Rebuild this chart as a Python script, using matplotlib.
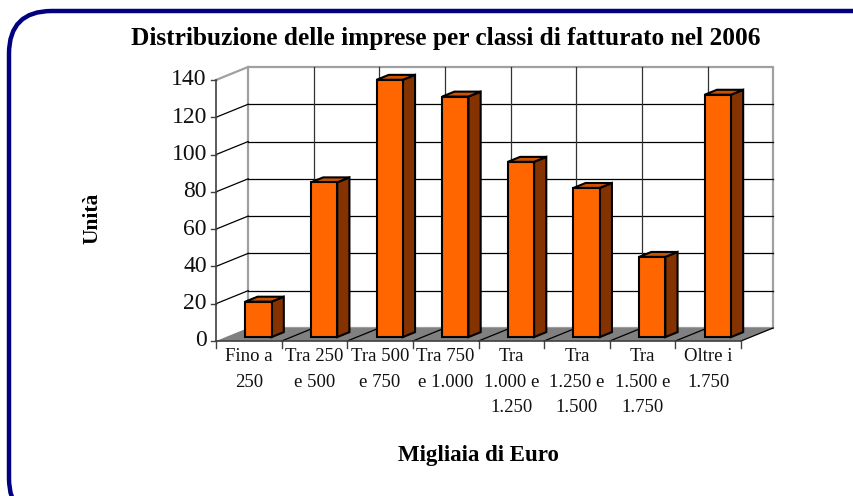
import matplotlib
matplotlib.use('Agg')
import matplotlib.pyplot as plt
from matplotlib.patches import Polygon, FancyBboxPatch

# data
categories = ['Fino a\n250', 'Tra 250\ne 500', 'Tra 500\ne 750', 'Tra 750\ne 1.000',
              'Tra\n1.000 e\n1.250', 'Tra\n1.250 e\n1.500', 'Tra\n1.500 e\n1.750', 'Oltre i\n1.750']
values = [19, 83, 138, 129, 94, 80, 43, 130]
yticks = [0, 20, 40, 60, 80, 100, 120, 140]

title = 'Distribuzione delle imprese per classi di fatturato nel 2006'
xlabel = 'Migliaia di Euro'
ylabel = 'Unità'

# pseudo 3d look (excel style)
DX = 0.49    # depth shift, in category units
DY = 7.0     # depth shift, in value units
BAR_W = 0.40
F0, F1 = 0.30, 0.68   # bar depth range (fraction of the floor depth)
front_c = '#FF6600'
side_c = '#843300'
top_c = '#CC5200'
floor_c = '#808080'
wall_edge = '#A0A0A0'

plt.rcParams['font.family'] = ['Liberation Serif', 'DejaVu Serif']

fig = plt.figure(figsize=(8.54, 4.96), dpi=100)
ax = fig.add_axes([0, 0, 1, 1])
# pixel 216 -> x=0, 65.625 px per category ; pixel 341 -> y=0, 1.8643 px per unit
ax.set_xlim(-216 / 65.625, 638 / 65.625)
ax.set_ylim(-155 / 1.8643, 341 / 1.8643)
ax.axis('off')

n = len(categories)
ymax = yticks[-1]

# border
fig.patches.append(FancyBboxPatch((9 / 854, -0.05), 1.05, 1 - 11 / 496 + 0.05,
                                  boxstyle='round,pad=0,rounding_size=0.05',
                                  transform=fig.transFigure, fill=False,
                                  edgecolor='#000080', linewidth=3.2,
                                  mutation_aspect=854 / 496))

# back wall
ax.add_patch(Polygon([(DX, DY), (n + DX, DY), (n + DX, ymax + DY), (DX, ymax + DY)],
                     closed=True, facecolor='white', edgecolor=wall_edge, lw=1.6, zorder=1))
for v in yticks[1:-1]:
    ax.plot([DX, n + DX], [v + DY, v + DY], color='black', lw=0.9, zorder=2)
for i in range(1, n):
    ax.plot([i + DX, i + DX], [DY, ymax + DY], color='#333333', lw=0.9, zorder=2)

# left wall
for v in yticks[1:-1]:
    ax.plot([0, DX], [v, v + DY], color='black', lw=0.9, zorder=2)
ax.plot([0, DX], [ymax, ymax + DY], color=wall_edge, lw=1.6, zorder=2)

# floor
ax.add_patch(Polygon([(0, 0), (n, 0), (n + DX, DY), (DX, DY)], closed=True,
                     facecolor=floor_c, edgecolor='none', zorder=2))
for i in range(1, n + 1):
    ax.plot([i, i + DX], [0, DY], color='black', lw=0.9, zorder=3)

# axes lines and ticks
ax.plot([0, 0], [0, ymax], color='#404040', lw=1.2, zorder=3)
ax.plot([0, n], [0, 0], color='#404040', lw=1.2, zorder=3)
for v in yticks:
    ax.plot([-0.08, 0], [v, v], color='#404040', lw=1.0, zorder=3)
    ax.text(-0.14, v, str(v), ha='right', va='center', fontsize=17, color='#111111')
for i in range(n + 1):
    ax.plot([i, i], [0, -3.5], color='#404040', lw=1.0, zorder=3)
for i, lab in enumerate(categories):
    ax.text(i + 0.5, -4.0, lab, ha='center', va='top', fontsize=13.5,
            linespacing=1.62, color='#111111')

# bars
for i, v in enumerate(values):
    cx = i + 0.5
    x0 = cx - BAR_W / 2 + F0 * DX
    x1 = cx + BAR_W / 2 + F0 * DX
    y0 = F0 * DY
    ddx = (F1 - F0) * DX
    ddy = (F1 - F0) * DY
    front = [(x0, y0), (x1, y0), (x1, y0 + v), (x0, y0 + v)]
    side = [(x1, y0), (x1 + ddx, y0 + ddy), (x1 + ddx, y0 + v + ddy), (x1, y0 + v)]
    top = [(x0, y0 + v), (x1, y0 + v), (x1 + ddx, y0 + v + ddy), (x0 + ddx, y0 + v + ddy)]
    z = 5 + i
    ax.add_patch(Polygon(side, closed=True, facecolor=side_c, edgecolor='black', lw=1.5, zorder=z))
    ax.add_patch(Polygon(top, closed=True, facecolor=top_c, edgecolor='black', lw=1.5, zorder=z))
    ax.add_patch(Polygon(front, closed=True, facecolor=front_c, edgecolor='black', lw=1.5, zorder=z))

# titles
fig.text(446 / 854, 1 - 38 / 496, title, ha='center', va='center',
         fontsize=18.3, fontweight='bold')
fig.text(92 / 854, 1 - 218 / 496, ylabel, ha='center', va='center',
         fontsize=15.5, fontweight='bold', rotation=90)
fig.text(478 / 854, 1 - 455 / 496, xlabel, ha='center', va='center',
         fontsize=16.5, fontweight='bold')

fig.savefig('out.png', dpi=100)
